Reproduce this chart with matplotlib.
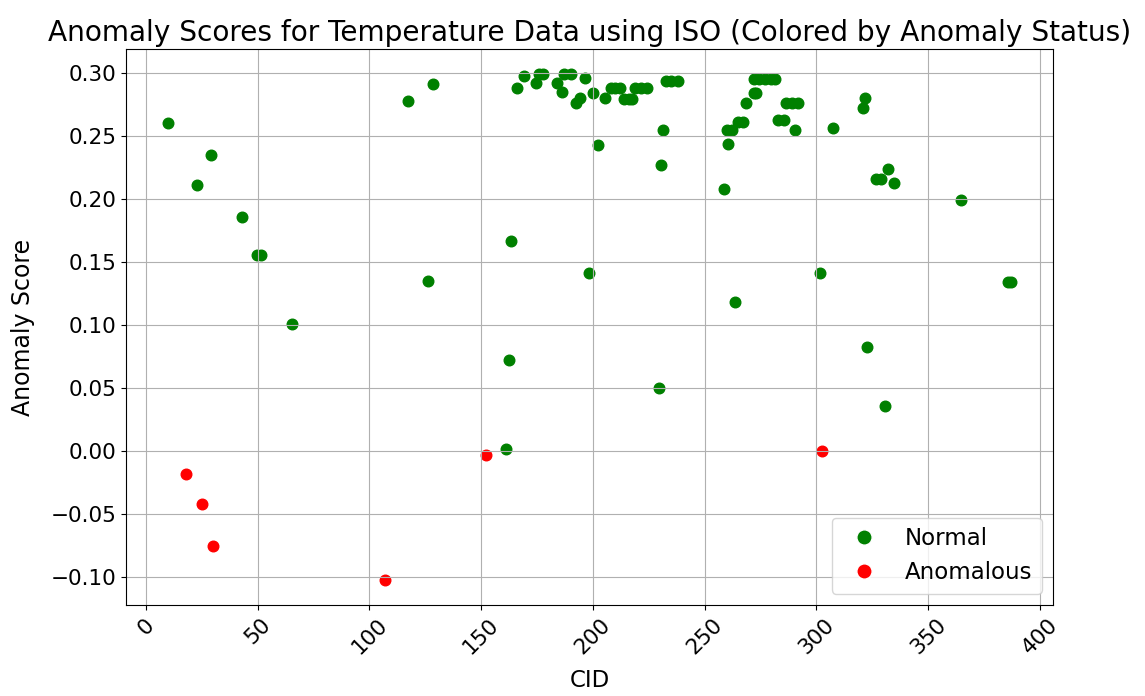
import matplotlib
matplotlib.use("Agg")
import matplotlib.pyplot as plt
from matplotlib.lines import Line2D

normal_cid = [9.9, 23.0, 29.3, 43.1, 49.6, 51.6, 65.3, 117.2, 128.4, 126.3,
              161.3, 162.4, 163.4, 166.2, 169.2, 174.4, 175.9, 177.8, 184.0, 186.3,
              187.0, 190.0, 192.2, 194.4, 196.3, 198.3, 200.1, 202.3, 205.3, 208.0,
              210.0, 212.0, 214.0, 216.0, 217.5, 219.0, 221.5, 224.0, 229.6, 230.3,
              231.2, 232.5, 235.0, 238.0, 258.8, 260.0, 262.4, 260.5, 263.4, 265.0,
              267.0, 268.6, 272.0, 273.0, 272.0, 274.5, 277.0, 279.5, 281.5, 283.0,
              285.5, 286.3, 289.0, 291.8, 290.4, 301.6, 307.6, 320.7, 321.7, 322.6,
              326.8, 328.8, 330.7, 331.8, 334.8, 364.7, 385.5, 387.0]
normal_score = [0.260, 0.211, 0.235, 0.186, 0.156, 0.156, 0.101, 0.278, 0.291, 0.135,
                0.002, 0.072, 0.167, 0.288, 0.298, 0.292, 0.299, 0.299, 0.292, 0.285,
                0.299, 0.299, 0.276, 0.280, 0.296, 0.141, 0.284, 0.243, 0.280, 0.288,
                0.288, 0.288, 0.279, 0.279, 0.279, 0.288, 0.288, 0.288, 0.050, 0.227,
                0.255, 0.294, 0.294, 0.294, 0.208, 0.255, 0.255, 0.244, 0.118, 0.261,
                0.261, 0.276, 0.284, 0.284, 0.295, 0.295, 0.295, 0.295, 0.295, 0.263,
                0.263, 0.276, 0.276, 0.276, 0.255, 0.141, 0.256, 0.272, 0.280, 0.083,
                0.216, 0.216, 0.036, 0.224, 0.213, 0.199, 0.134, 0.134]

anom_cid = [17.9, 25.1, 30.1, 106.9, 152.3, 302.4]
anom_score = [-0.018, -0.042, -0.075, -0.102, -0.003, 0.0005]

fig = plt.figure(figsize=(11.45, 6.96), dpi=100)
ax = fig.add_axes([0.110, 0.1307, 0.8097, 0.7989])

ax.scatter(normal_cid, normal_score, c="green", s=58)
ax.scatter(anom_cid, anom_score, c="red", s=58)

ax.set_title("Anomaly Scores for Temperature Data using ISO (Colored by Anomaly Status)", fontsize=20.2)
ax.set_xlabel("CID", fontsize=16.5, labelpad=8)
ax.set_ylabel("Anomaly Score", fontsize=17, labelpad=11)
ax.tick_params(axis="both", labelsize=15.5)
plt.setp(ax.get_xticklabels(), rotation=45)
ax.grid(True)

handles = [Line2D([0], [0], marker="o", color="w", markerfacecolor="green", markersize=11, label="Normal"),
           Line2D([0], [0], marker="o", color="w", markerfacecolor="red", markersize=11, label="Anomalous")]
ax.legend(handles=handles, loc="lower right", fontsize=16.5)

fig.savefig("out.png", dpi=100)
